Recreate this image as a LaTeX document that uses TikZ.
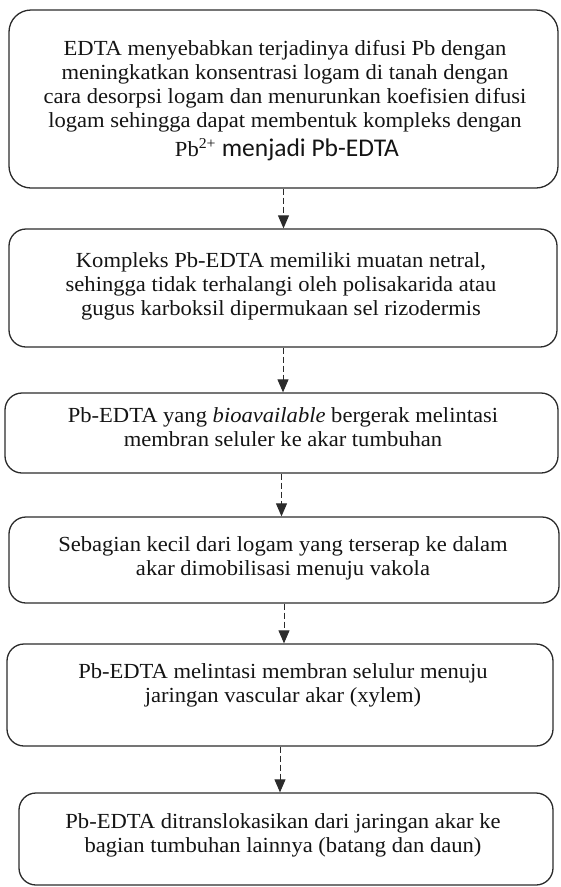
\documentclass[tikz,border=0pt]{standalone}
\usepackage{fontspec}
\setmainfont[FakeStretch=1.05]{Liberation Serif}
\newfontfamily\calfont{Carlito}
\usetikzlibrary{arrows.meta}
\definecolor{ln}{HTML}{2B2B2B}
\definecolor{tx}{HTML}{141414}
\newcommand{\flowlines}[1]{\begin{tabular}[t]{@{}c@{}}#1\end{tabular}}
\tikzset{
  flowbox/.style={draw=ln, line width=1.3pt, rounded corners=17pt, inner sep=0pt},
  flowtext/.style={text=tx, anchor=base, inner sep=0pt, font=\fontsize{21.5}{24}\selectfont},
  flowarrow/.style={draw=ln, line width=1pt, dash pattern=on 6pt off 3pt, -{Triangle[width=11pt,length=13pt]}}
}
\begin{document}
\begin{tikzpicture}[x=1pt,y=-1pt]
\useasboundingbox (0,0) rectangle (561,887);
\node[flowbox, rounded corners=22pt, minimum width=549pt, minimum height=178pt] (b1) at (283.5,99) {};
\node[flowbox, minimum width=548pt, minimum height=118pt] (b2) at (283,288) {};
\node[flowbox, minimum width=553pt, minimum height=80pt] (b3) at (281.5,433) {};
\node[flowbox, minimum width=550pt, minimum height=86pt] (b4) at (284,560) {};
\node[flowbox, minimum width=546pt, minimum height=102pt] (b5) at (280,695) {};
\node[flowbox, minimum width=534pt, minimum height=92pt] (b6) at (286,839) {};

\node[flowtext] (t1) at (285,55) {\flowlines{EDTA menyebabkan terjadinya difusi Pb dengan\\
meningkatkan konsentrasi logam di tanah dengan\\
cara desorpsi logam dan menurunkan koefisien difusi\\
logam sehingga dapat membentuk kompleks dengan}};
\node[flowtext] (t1b) at (287,156) {Pb\textsuperscript{2+} {\calfont\fontsize{25.5}{26}\selectfont menjadi Pb-EDTA}};
\node[flowtext] (t2) at (281,267) {\flowlines{Kompleks Pb-EDTA memiliki muatan netral,\\
sehingga tidak terhalangi oleh polisakarida atau\\
gugus karboksil dipermukaan sel rizodermis}};
\node[flowtext] (t3) at (283,422) {\flowlines{Pb-EDTA yang \textit{bioavailable} bergerak melintasi\\
membran seluler ke akar tumbuhan}};
\node[flowtext] (t4) at (283,551) {\flowlines{Sebagian kecil dari logam yang terserap ke dalam\\
akar dimobilisasi menuju vakola}};
\node[flowtext] (t5) at (283,678) {\flowlines{Pb-EDTA melintasi membran selulur menuju\\
jaringan vascular akar (xylem)}};
\node[flowtext] (t6) at (283,828) {\flowlines{Pb-EDTA ditranslokasikan dari jaringan akar ke\\
bagian tumbuhan lainnya (batang dan daun)}};

\draw[flowarrow] (b1.south) -- (b1.south |- b2.north);
\draw[flowarrow] (b2.south) -- (b2.south |- b3.north);
\draw[flowarrow] (b3.south) -- (b3.south |- b4.north);
\draw[flowarrow] (b4.south) -- (b4.south |- b5.north);
\draw[flowarrow] (b5.south) -- (b5.south |- b6.north);
\end{tikzpicture}
\end{document}
